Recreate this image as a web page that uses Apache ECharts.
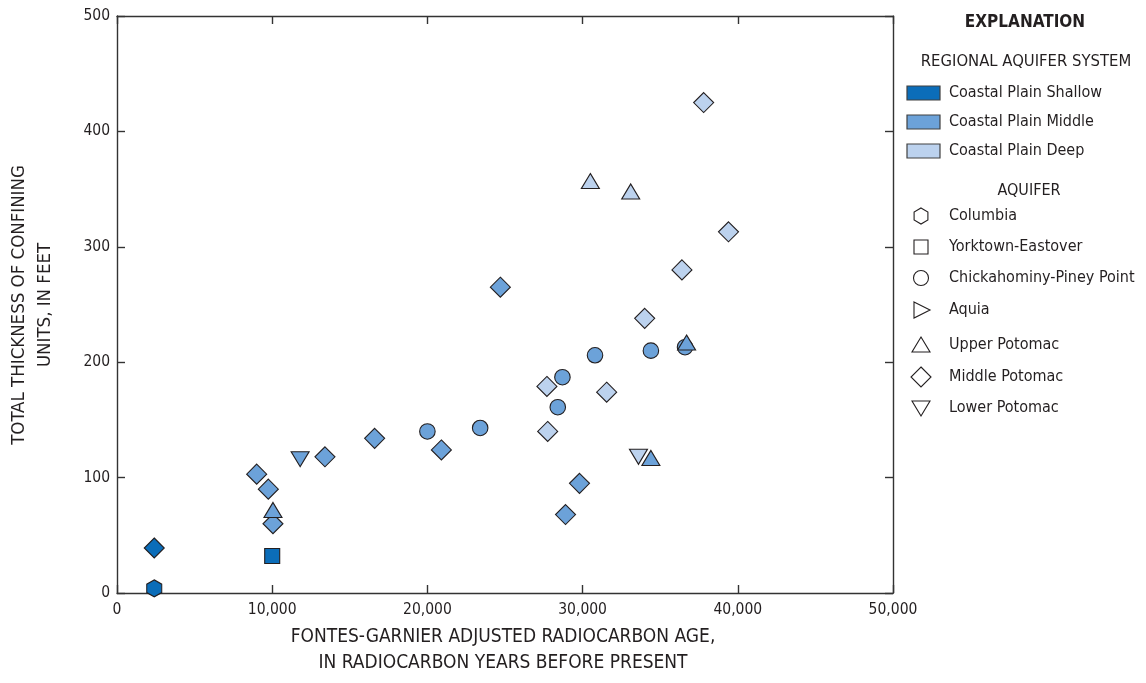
<!DOCTYPE html>
<html>
<head>
<meta charset="utf-8">
<script src="https://cdn.jsdelivr.net/npm/echarts@6/dist/echarts.min.js"></script>
<style>
html,body{margin:0;padding:0;background:#fff;}
#chart{width:1146px;height:683px;}
</style>
</head>
<body>
<div id="chart"></div>
<script>
// ---- Data: [Fontes-Garnier adjusted age (RCYBP), total thickness of confining units (ft)] ----
const shallowColumbia = [[2400, 4]];
const shallowMiddlePotomac = [[2400, 39]];
const shallowYorktown = [[10000, 32]];

const middleChickahominy = [[20000, 140], [23400, 143], [28400, 161], [28700, 187], [30800, 206], [34400, 210], [36600, 213]];
const middleMiddlePotomac = [[9000, 103], [9750, 90], [10050, 60], [13400, 118], [16600, 134], [20900, 124], [24700, 265], [29800, 95], [28900, 68]];
const middleUpperPotomac = [[10050, 72], [34400, 117], [36700, 217]];
const middleLowerPotomac = [[11800, 116]];

const deepMiddlePotomac = [[27750, 140], [27700, 179], [31550, 174], [34000, 238], [36400, 280], [39400, 313], [37800, 425]];
const deepUpperPotomac = [[30500, 357], [33100, 348]];
const deepLowerPotomac = [[33600, 118]];

const xTicks = [0, 10000, 20000, 30000, 40000, 50000];
const yTicks = [0, 100, 200, 300, 400, 500];

const systemNames = ['Coastal Plain Shallow', 'Coastal Plain Middle', 'Coastal Plain Deep'];
const aquiferNames = ['Columbia', 'Yorktown-Eastover', 'Chickahominy-Piney Point', 'Aquia', 'Upper Potomac', 'Middle Potomac', 'Lower Potomac'];

// ---- Styling ----
const FONT = "'Liberation Sans Narrow','DejaVu Sans Condensed','Roboto Condensed','Arial Narrow','Roboto',sans-serif";
const TXT = '#231f20';
const STROKE = '#231f20';
const C_SHALLOW = '#0b6db9';
const C_MIDDLE = '#6ca2d9';
const C_DEEP = '#bcd2ee';
const HEX = 'path://M0,-10 L8.66,-5 L8.66,5 L0,10 L-8.66,5 L-8.66,-5 Z';

function sym(name, data, color, symbol, size, rotate, z) {
  return {
    name: name, type: 'scatter', data: data,
    symbol: symbol, symbolSize: size, symbolRotate: rotate || 0,
    itemStyle: { color: color, borderColor: STROKE, borderWidth: 1.1, opacity: 1 },
    z: z || 2, emphasis: { disabled: true }, silent: true
  };
}

const series = [
  sym('Shallow Columbia', shallowColumbia, C_SHALLOW, HEX, [15, 17]),
  sym('Shallow Middle Potomac', shallowMiddlePotomac, C_SHALLOW, 'diamond', [20, 20]),
  sym('Shallow Yorktown', shallowYorktown, C_SHALLOW, 'rect', [15, 15]),
  sym('Middle Chickahominy', middleChickahominy, C_MIDDLE, 'circle', 15.5),
  sym('Middle Middle Potomac', middleMiddlePotomac, C_MIDDLE, 'diamond', [20, 20], 0, 3),
  sym('Deep Lower Potomac', deepLowerPotomac, C_DEEP, 'triangle', [18, 15], 180, 3),
  sym('Middle Upper Potomac', middleUpperPotomac, C_MIDDLE, 'triangle', [18, 15], 0, 4),
  sym('Middle Lower Potomac', middleLowerPotomac, C_MIDDLE, 'triangle', [18, 15], 180, 4),
  sym('Deep Middle Potomac', deepMiddlePotomac, C_DEEP, 'diamond', [20, 20], 0, 4),
  sym('Deep Upper Potomac', deepUpperPotomac, C_DEEP, 'triangle', [18, 15], 0, 4)
];

// ---- Legend (graphic) ----
const LX = 921, TX = 949;
const graphic = [];
function t(x, y, text, opts) {
  graphic.push({
    type: 'text', x: x, y: y, silent: true,
    style: Object.assign({ text: text, fill: TXT, font: '16px ' + FONT, align: 'left', verticalAlign: 'middle' }, opts || {})
  });
}
t(1025, 23, 'EXPLANATION', { align: 'center', font: 'bold 17px ' + FONT });
t(1026, 62, 'REGIONAL AQUIFER SYSTEM', { align: 'center', font: '16.5px ' + FONT });
const sysColors = [C_SHALLOW, C_MIDDLE, C_DEEP];
const sysY = [93, 122, 151];
systemNames.forEach(function (n, i) {
  graphic.push({ type: 'rect', silent: true, shape: { x: 907, y: sysY[i] - 7, width: 33, height: 14 },
    style: { fill: sysColors[i], stroke: '#404040', lineWidth: 1.2 } });
  t(TX, sysY[i], n);
});
t(1029, 191, 'AQUIFER', { align: 'center' });
const aqY = [216, 247, 278, 310, 345, 377, 408];
const iconStyle = { fill: '#fff', stroke: '#231f20', lineWidth: 1.1 };
function poly(pts, y) {
  graphic.push({ type: 'polygon', silent: true,
    shape: { points: pts.map(function (p) { return [LX + p[0], y + p[1]]; }) }, style: iconStyle });
}
poly([[0, -8], [6.9, -4], [6.9, 4], [0, 8], [-6.9, 4], [-6.9, -4]], aqY[0]);
graphic.push({ type: 'rect', silent: true, shape: { x: LX - 7, y: aqY[1] - 7, width: 14, height: 14 }, style: iconStyle });
graphic.push({ type: 'circle', silent: true, shape: { cx: LX, cy: aqY[2], r: 7.5 }, style: iconStyle });
poly([[-7, -8], [9, 0], [-7, 8]], aqY[3]);
poly([[0, -8], [9, 7], [-9, 7]], aqY[4]);
poly([[0, -10], [10, 0], [0, 10], [-10, 0]], aqY[5]);
poly([[-9, -7], [9, -7], [0, 8]], aqY[6]);
aquiferNames.forEach(function (n, i) { t(TX, aqY[i], n); });

// Axis titles
graphic.push({ type: 'text', x: 32, y: 305, rotation: Math.PI / 2, silent: true,
  style: { text: 'TOTAL THICKNESS OF CONFINING\nUNITS, IN FEET', fill: TXT, font: '18.5px ' + FONT,
    align: 'center', verticalAlign: 'middle', lineHeight: 26 } });
graphic.push({ type: 'text', x: 503, y: 650, silent: true,
  style: { text: 'FONTES-GARNIER ADJUSTED RADIOCARBON AGE,\nIN RADIOCARBON YEARS BEFORE PRESENT', fill: TXT, font: '19px ' + FONT,
    align: 'center', verticalAlign: 'middle', lineHeight: 26 } });

const axisLine = { show: true, onZero: false, lineStyle: { color: '#333', width: 1.4 } };
const axisTick = { show: true, inside: true, length: 8, lineStyle: { color: '#333', width: 1.4 } };
const labelStyle = { color: TXT, fontFamily: FONT, fontSize: 15.5 };

const option = {
  animation: false,
  backgroundColor: '#fff',
  grid: { left: 117, right: 253, top: 16, bottom: 90, containLabel: false },
  xAxis: [
    { type: 'value', min: xTicks[0], max: xTicks[xTicks.length - 1], interval: xTicks[1] - xTicks[0], position: 'bottom',
      axisLine: axisLine, axisTick: axisTick, splitLine: { show: false },
      axisLabel: Object.assign({ margin: 9, formatter: function (v) { return v === 0 ? '0' : v.toLocaleString('en-US'); } }, labelStyle) },
    { type: 'value', min: xTicks[0], max: xTicks[xTicks.length - 1], interval: xTicks[1] - xTicks[0], position: 'top',
      axisLine: axisLine, axisTick: axisTick, splitLine: { show: false }, axisLabel: { show: false } }
  ],
  yAxis: [
    { type: 'value', min: yTicks[0], max: yTicks[yTicks.length - 1], interval: yTicks[1] - yTicks[0], position: 'left',
      axisLine: axisLine, axisTick: axisTick, splitLine: { show: false },
      axisLabel: Object.assign({ margin: 7 }, labelStyle) },
    { type: 'value', min: yTicks[0], max: yTicks[yTicks.length - 1], interval: yTicks[1] - yTicks[0], position: 'right',
      axisLine: axisLine, axisTick: axisTick, splitLine: { show: false }, axisLabel: { show: false } }
  ],
  series: series,
  graphic: graphic
};

const chart = echarts.init(document.getElementById('chart'), null, { renderer: 'canvas' });
chart.setOption(option);
</script>
</body>
</html>
